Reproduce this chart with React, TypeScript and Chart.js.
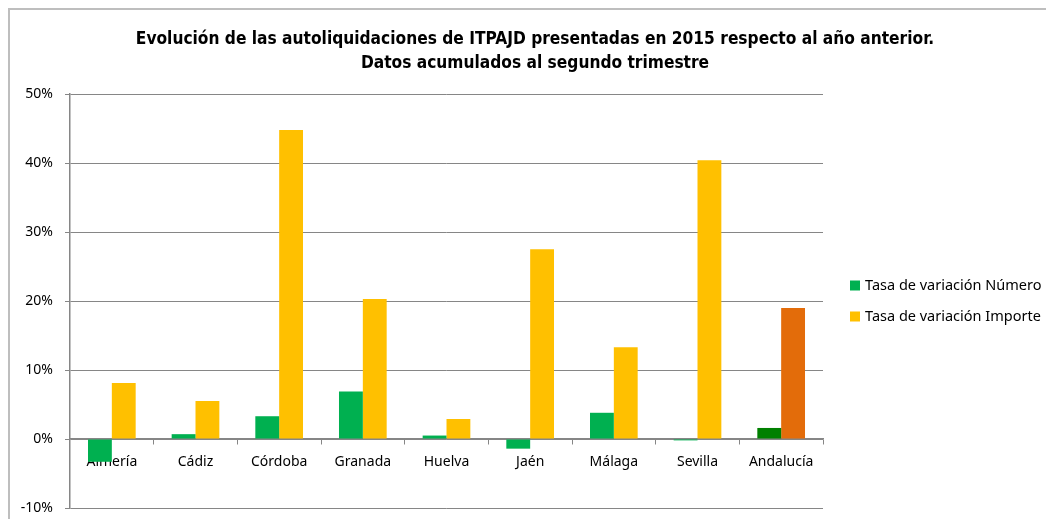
import React, { useEffect, useRef } from "react";
import { Chart, registerables } from "chart.js";

Chart.register(...registerables);

const titleLines = [
  "Evolución de las autoliquidaciones de ITPAJD presentadas en 2015 respecto al año anterior.",
  "Datos acumulados al segundo trimestre",
];
const categories = ["Almería", "Cádiz", "Córdoba", "Granada", "Huelva", "Jaén", "Málaga", "Sevilla", "Andalucía"];
const tasaNumero = [-3.3, 0.7, 3.3, 6.9, 0.5, -1.4, 3.8, -0.2, 1.6];
const tasaImporte = [8.1, 5.5, 44.8, 20.3, 2.9, 27.5, 13.3, 40.4, 19.0];
const seriesNames = ["Tasa de variación Número", "Tasa de variación Importe"];
const yMin = -10;
const yMax = 50;
const yStep = 10;

const GREEN = "#00B050";
const DARK_GREEN = "#008000";
const YELLOW = "#FFC000";
const ORANGE = "#E36C0A";
const AXIS = "#868686";
const LEGEND_FONT = "14.5px 'Noto Sans'";
const TITLE_FONT = "bold 17.2px 'DejaVu Sans Condensed'";

const sideLegendAndTitle = {
  id: "sideLegendAndTitle",
  afterDraw(chart: any) {
    const { ctx, chartArea, width } = chart;
    ctx.save();
    // title, centred on the whole frame
    ctx.font = TITLE_FONT;
    ctx.fillStyle = "#000";
    ctx.textAlign = "center";
    ctx.textBaseline = "middle";
    titleLines.forEach((t, i) => ctx.fillText(t, width / 2 + 3, 30 + i * 24));
    // legend
    const x0 = chartArea.right + 27;
    const cy = (chartArea.top + chartArea.bottom) / 2;
    const gap = 31;
    ctx.font = LEGEND_FONT;
    ctx.textAlign = "left";
    chart.data.datasets.forEach((ds: any, i: number) => {
      const y = cy + (i - (chart.data.datasets.length - 1) / 2) * gap;
      const color = typeof ds.backgroundColor === "function" ? ds.backgroundColor({ dataIndex: undefined }) : ds.backgroundColor;
      ctx.fillStyle = color;
      ctx.fillRect(x0, y - 5, 10, 10);
      ctx.fillStyle = "#000";
      ctx.fillText(ds.label, x0 + 15, y);
    });
    ctx.restore();
  },
};

export default function App() {
  const ref = useRef<HTMLCanvasElement | null>(null);
  useEffect(() => {
    if (!ref.current) return;
    const last = categories.length - 1;
    const chart = new Chart(ref.current, {
      type: "bar",
      data: {
        labels: categories,
        datasets: [
          {
            label: seriesNames[0],
            data: tasaNumero,
            backgroundColor: (ctx: any) => (ctx.dataIndex === last ? DARK_GREEN : GREEN),
            categoryPercentage: 0.57,
            barPercentage: 1,
          },
          {
            label: seriesNames[1],
            data: tasaImporte,
            backgroundColor: (ctx: any) => (ctx.dataIndex === last ? ORANGE : YELLOW),
            categoryPercentage: 0.57,
            barPercentage: 1,
          },
        ],
      },
      plugins: [sideLegendAndTitle],
      options: {
        animation: false,
        responsive: false,
        layout: { padding: { left: 0, right: 231, top: 84, bottom: 11 } },
        plugins: {
          title: { display: false },
          legend: { display: false },
          tooltip: { enabled: false },
        },
        scales: {
          x: {
            position: { y: 0 } as any,
            z: 1,
            afterFit: (s: any) => {
              s.height = 0;
              s.paddingLeft = 0;
              s.paddingRight = 0;
            },
            grid: { drawOnChartArea: false, drawTicks: true, tickLength: 5, color: AXIS, offset: true },
            border: { color: AXIS, width: 1.5 },
            ticks: { color: "#000", padding: 10, font: { family: "Noto Sans", size: 14 } },
          },
          y: {
            min: yMin,
            max: yMax,
            afterFit: (s: any) => {
              s.width = 60;
              s.paddingTop = 0;
              s.paddingBottom = 0;
            },
            ticks: {
              stepSize: yStep,
              color: "#000",
              padding: 12,
              font: { family: "Noto Sans", size: 14 },
              callback: (v: any) => `${v}%`,
            },
            grid: { color: AXIS, lineWidth: 1, tickLength: 5 },
            border: { color: AXIS, width: 1.5 },
          },
        },
      },
    });
    return () => chart.destroy();
  }, []);
  return (
    <div
      style={{
        width: 1046,
        height: 511,
        boxSizing: "border-box",
        borderLeft: "2px solid #BEBEBE",
        borderTop: "2px solid #BEBEBE",
        overflow: "hidden",
      }}
    >
      <canvas ref={ref} width={1044} height={509} style={{ display: "block" }} />
    </div>
  );
}
